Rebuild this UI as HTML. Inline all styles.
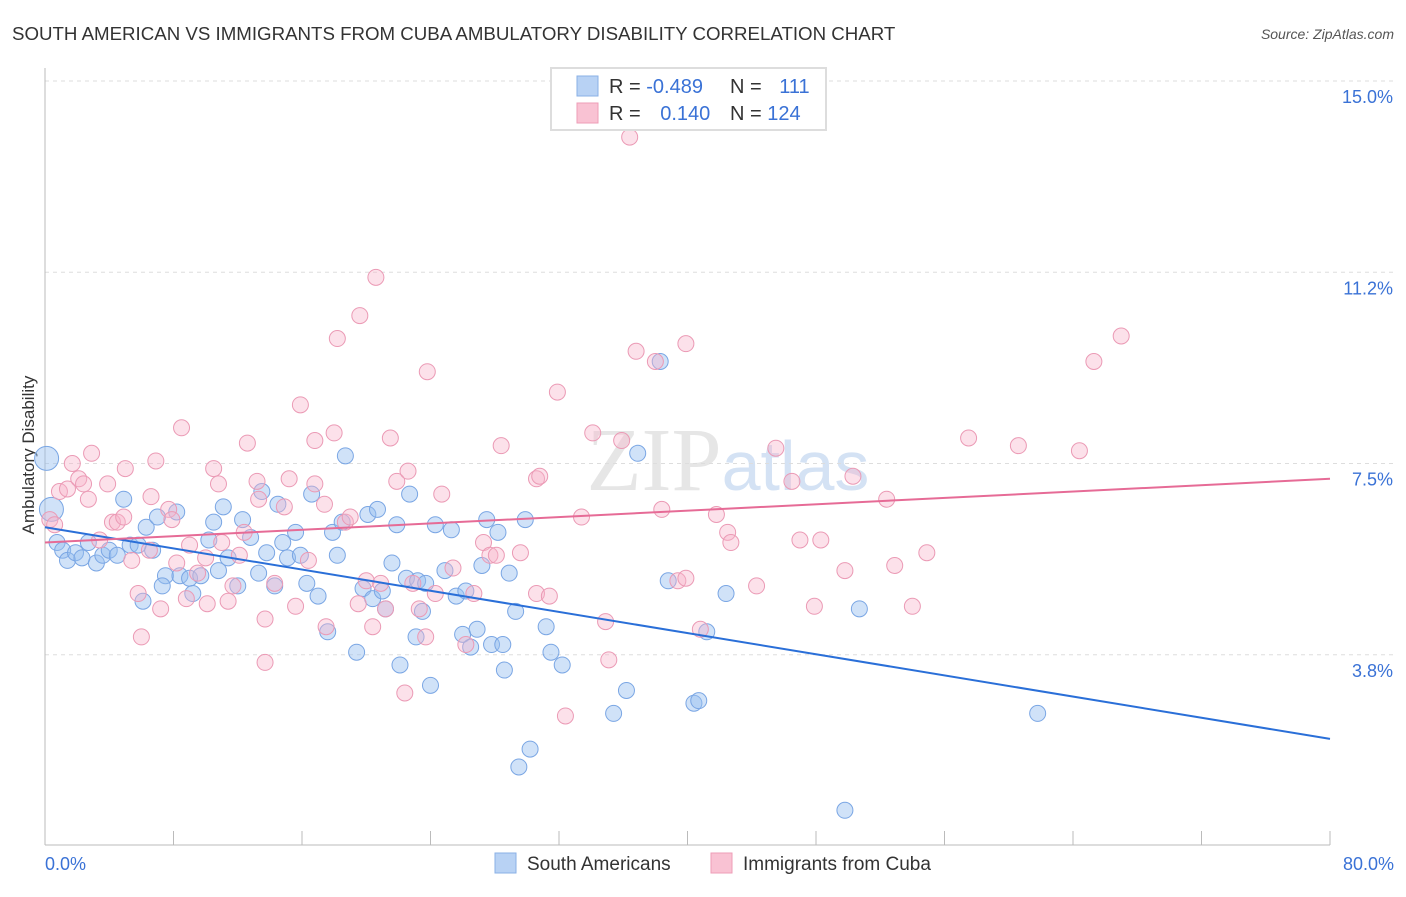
<!DOCTYPE html>
<html><head><meta charset="utf-8"><style>
body{margin:0;background:#fff;font-family:"Liberation Sans",sans-serif}
</style></head><body>
<svg id="chart" width="1406" height="892" xmlns="http://www.w3.org/2000/svg" font-family="Liberation Sans, sans-serif">
<text x="12" y="40" font-size="18.7" fill="#333">SOUTH AMERICAN VS IMMIGRANTS FROM CUBA AMBULATORY DISABILITY CORRELATION CHART</text>
<text x="1394" y="39" font-size="14" fill="#555" font-style="italic" text-anchor="end">Source: ZipAtlas.com</text>
<text x="728" y="490" font-size="90" fill="#e6e6e6" text-anchor="middle" font-family="Liberation Serif, serif">ZIP<tspan fill="#d4e2f4" font-family="Liberation Sans, sans-serif" font-size="70">atlas</tspan></text>
<text transform="translate(34,455) rotate(-90)" font-size="17" fill="#333" text-anchor="middle">Ambulatory Disability</text>
<g id="grid"></g><g id="pts"></g><g id="lines"></g>
<g>
<rect x="551" y="68" width="275" height="62" fill="#fff" stroke="#ddd" stroke-width="2"/>
<rect x="577" y="76" width="21" height="20" fill="#b8d2f4" stroke="#8ab0e6"/>
<rect x="577" y="103" width="21" height="20" fill="#f9c2d3" stroke="#ee9db7"/>
<text x="609" y="93" font-size="20" fill="#333">R = <tspan fill="#3a72d6">-0.489</tspan></text>
<text x="730" y="93" font-size="20" fill="#333">N = <tspan fill="#3a72d6" dx="12">111</tspan></text>
<text x="609" y="120" font-size="20" fill="#333">R = <tspan fill="#3a72d6" dx="14">0.140</tspan></text>
<text x="730" y="120" font-size="20" fill="#333">N = <tspan fill="#3a72d6">124</tspan></text>
</g>
<g>
<rect x="495" y="853" width="21" height="20" fill="#b8d2f4" stroke="#8ab0e6"/>
<text x="527" y="870" font-size="19" fill="#333">South Americans</text>
<rect x="711" y="853" width="21" height="20" fill="#f9c2d3" stroke="#ee9db7"/>
<text x="743" y="870" font-size="19" fill="#333">Immigrants from Cuba</text>
</g>
</svg>
<script>
const yTicks=[15,11.25,7.5,3.75];
const yTickLabels=["15.0%","11.2%","7.5%","3.8%"];
const xTickLabels=["0.0%","80.0%"];
const blueX=[0.1,0.4,0.75,1.1,1.4,1.9,2.3,2.7,3.2,3.6,4.0,4.5,4.9,5.3,5.8,6.1,6.3,6.7,7.0,7.5,7.3,8.2,8.4,9.0,9.2,9.7,10.2,10.5,10.8,11.1,11.4,12.0,12.3,12.8,13.3,13.5,13.8,14.3,14.5,14.8,15.1,15.6,15.9,16.3,16.6,17.0,17.6,17.9,18.2,18.5,18.7,19.4,19.8,20.1,20.4,20.7,21.0,21.2,21.6,21.9,22.1,22.5,22.7,23.2,23.1,23.5,23.7,24.0,24.3,24.9,25.3,25.6,26.0,26.2,26.5,26.9,27.2,27.5,27.8,28.2,28.5,28.6,28.9,29.3,29.5,29.9,30.2,31.2,31.5,32.2,35.4,36.2,36.9,38.3,38.8,40.4,40.7,41.2,42.4,49.8,50.7,61.8];
const blueY=[7.6,6.6,5.95,5.8,5.6,5.75,5.65,5.95,5.55,5.7,5.8,5.7,6.8,5.9,5.9,4.8,6.25,5.8,6.45,5.3,5.1,6.55,5.3,5.25,4.95,5.3,6.0,6.35,5.4,6.65,5.65,5.1,6.4,6.05,5.35,6.95,5.75,5.1,6.7,5.95,5.65,6.15,5.7,5.15,6.9,4.9,4.2,6.15,5.7,6.35,7.65,3.8,5.05,6.5,4.85,6.6,5.0,4.65,5.55,6.3,3.55,5.25,6.9,5.2,4.1,4.6,5.15,3.15,6.3,5.4,6.2,4.9,4.15,5.0,3.9,4.25,5.5,6.4,3.95,6.15,3.95,3.45,5.35,4.6,1.55,6.4,1.9,4.3,3.8,3.55,2.6,3.05,7.7,9.5,5.2,2.8,2.85,4.2,4.95,0.7,4.65,2.6];
const pinkX=[0.3,0.6,0.9,1.4,1.7,2.1,2.4,2.7,2.9,3.4,3.9,4.2,4.5,5.0,4.9,5.4,5.8,6.0,6.5,6.6,6.9,7.2,7.7,7.9,8.2,8.5,8.8,9.0,9.5,10.1,10.0,10.5,10.8,11.0,11.4,11.7,12.1,12.4,12.6,13.2,13.3,13.7,13.7,14.3,14.9,15.2,15.6,15.9,16.4,16.8,16.8,17.4,17.5,18.0,18.2,18.7,19.0,19.5,19.6,20.0,20.4,20.6,20.9,21.2,21.5,21.9,22.4,22.6,22.9,23.3,23.7,23.8,24.3,24.7,25.4,26.2,26.7,27.3,27.7,28.1,28.4,29.6,30.6,30.6,30.8,31.4,31.9,32.4,33.4,34.1,34.9,35.1,35.9,36.4,36.8,38.0,38.4,39.4,39.9,39.9,40.8,41.8,42.5,42.7,44.3,45.5,46.5,47.0,47.9,48.3,49.8,50.3,52.4,52.9,54.0,54.9,57.5,60.6,64.4,65.3,67.0];
const pinkY=[6.4,6.3,6.95,7.0,7.5,7.2,7.1,6.8,7.7,6.0,7.1,6.35,6.35,7.4,6.45,5.6,4.95,4.1,5.8,6.85,7.55,4.65,6.6,6.4,5.55,8.2,4.85,5.9,5.35,4.75,5.65,7.4,7.1,5.95,4.8,5.1,5.7,6.15,7.9,7.15,6.8,3.6,4.45,5.15,6.65,7.2,4.7,8.65,5.6,7.95,7.1,6.7,4.3,8.1,9.95,6.35,6.45,4.75,10.4,5.2,4.3,11.15,5.15,4.65,8.0,7.15,3.0,7.35,5.15,4.65,4.1,9.3,4.95,6.9,5.45,3.95,4.95,5.95,5.7,5.7,7.85,5.75,4.95,7.2,7.25,4.9,8.9,2.55,6.45,8.1,4.4,3.65,7.95,13.9,9.7,9.5,6.6,5.2,5.25,9.85,4.25,6.5,6.15,5.95,5.1,7.8,7.15,6.0,4.7,6.0,5.4,7.25,6.8,5.5,4.7,5.75,8.0,7.85,7.75,9.5,10.0];
const blueTrend=[6.25,2.1];
const pinkTrend=[5.95,7.2];
const NS="http://www.w3.org/2000/svg";
const X=v=>45+v*(1285/80);
const Y=v=>81+(15-v)*51.0;
function mk(t,a,p){const e=document.createElementNS(NS,t);for(const k in a)e.setAttribute(k,a[k]);p.appendChild(e);return e;}
const g=document.getElementById('grid');
yTicks.forEach((t,i)=>{
 const l=mk('line',{x1:45,x2:1394,y1:Y(t),y2:Y(t),stroke:'#ddd','stroke-dasharray':'4,4'},g);
 
 
 const tx=mk('text',{x:1393,y:Y(t)+22,'font-size':18,fill:'#3a72d6','text-anchor':'end'},g);
 
 
 tx.textContent=yTickLabels[i];
});
const ax=mk('line',{x1:45,x2:1330,y1:845,y2:845,stroke:'#bbb'},g);


const yax=mk('line',{x1:45,x2:45,y1:68,y2:845,stroke:'#bbb'},g);


for(let i=0;i<=10;i++){
 const t=mk('line',{x1:X(i*8),x2:X(i*8),y1:831,y2:845,stroke:'#bbb'},g);
 
 
}
[[0,'start',45],[80,'end',1394]].forEach((d,i)=>{
 const tx=mk('text',{x:d[2],y:870,'font-size':18,fill:'#3a72d6','text-anchor':d[1]},g);
 
 
 tx.textContent=xTickLabels[i];
});
const p=document.getElementById('pts');
blueX.forEach((x,i)=>{
 const c=mk('circle',{cx:X(x),cy:Y(blueY[i]),r:i<2?12:8,fill:'rgba(150,190,240,0.45)',stroke:'#7aa6e4','stroke-width':1},p);
 
 
});
pinkX.forEach((x,i)=>{
 const c=mk('circle',{cx:X(x),cy:Y(pinkY[i]),r:8,fill:'rgba(248,180,202,0.4)',stroke:'#eb9ab5','stroke-width':1},p);
 
 
});
const L=document.getElementById('lines');
const b=mk('line',{x1:X(0),y1:Y(blueTrend[0]),x2:X(80),y2:Y(blueTrend[1]),stroke:'#2a6fd8','stroke-width':2},L);


const pk=mk('line',{x1:X(0),y1:Y(pinkTrend[0]),x2:X(80),y2:Y(pinkTrend[1]),stroke:'#e66b96','stroke-width':2},L);


</script>
</body></html>
